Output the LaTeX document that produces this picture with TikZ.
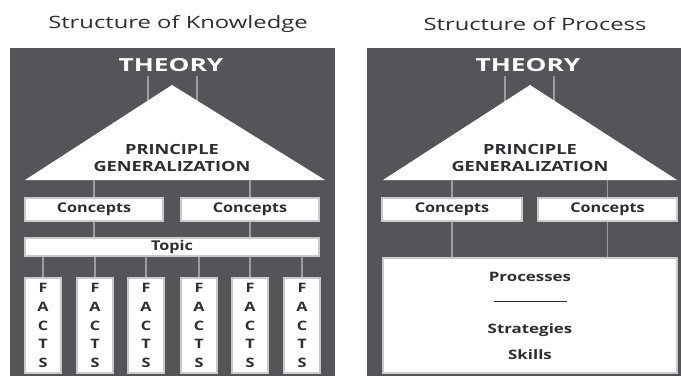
\documentclass[tikz,border=0pt]{standalone}
\usepackage{fontspec}
\setmainfont{Open Sans}
\usetikzlibrary{positioning}

\definecolor{slate}{HTML}{545558}
\definecolor{rod}{HTML}{9C9C9F}
\definecolor{rim}{HTML}{C9C9CB}
\definecolor{ink}{HTML}{2E2E30}

% wide lettering, as in the printed figure
\newcommand\wide[2][1.3]{\scalebox{#1}[1]{#2}}

\begin{document}
\begin{tikzpicture}[x=1pt,y=-1pt,
  panel/.style={fill=slate,draw=none},
  rod/.style={draw=rod,line width=1.2pt},
  card/.style={draw=rim,fill=white,line width=1.2pt,inner sep=0pt,text=ink,
    font=\bfseries\fontsize{13.5}{14}\selectfont},
  fact/.style={card,minimum width=36pt,minimum height=95pt,align=center,
    font=\bfseries\fontsize{13}{18.75}\selectfont},
  heading/.style={text=ink,font=\fontsize{17}{18}\selectfont},
  apex/.style={text=white,font=\bfseries\fontsize{18}{18}\selectfont},
  ridge/.style={text=ink,align=center,font=\bfseries\fontsize{14}{16.5}\selectfont}]
\useasboundingbox (0,0) rectangle (681,376);

% knowledge side
\node[heading] (kt) at (178,24) {\wide[1.4]{Structure of Knowledge}};
\fill[panel] (10,48) rectangle (335,376);
\node[apex] (kth) at (171,65.5) {\wide[1.46]{THEORY}};
\coordinate (kl) at (25,180);
\coordinate (kr) at (325,180);
\coordinate (ktop) at (172,85);
\draw[rod] (kth.south -| 148,0) -- (148,110);
\draw[rod] (kth.south -| 197,0) -- (197,110);
\draw[fill=white,draw=none] (kl) -- (ktop) -- (kr) -- cycle;
\node[ridge] (kpg) at (172,158) {\wide{PRINCIPLE}\\\wide{GENERALIZATION}};
\node[card,minimum width=138pt,minimum height=23pt] (kc1) at (94,209.5) {\wide[1.2]{Concepts}};
\node[card,minimum width=138pt,minimum height=23pt] (kc2) at (250,209.5) {\wide[1.2]{Concepts}};
\draw[rod] (kc1.north) -- (kc1.north |- kl);
\draw[rod] (kc2.north) -- (kc2.north |- kr);
\node[card,minimum width=294pt,minimum height=18pt] (topic) at (172,247) {\wide[1.2]{Topic}};
\draw[rod] (kc1.south) -- (kc1.south |- topic.north);
\draw[rod] (kc2.south) -- (kc2.south |- topic.north);
\foreach \x [count=\i] in {43,95,146,199,250,302} {
  \node[fact] (f\i) at (\x,325.5) {\wide[1.25]{F}\\\wide[1.25]{A}\\\wide[1.25]{C}\\\wide[1.25]{T}\\\wide[1.25]{S}};
  \draw[rod] (topic.south -| f\i) -- (f\i.north);
}

% process side
\node[heading] (pt) at (535,24) {\wide[1.4]{Structure of Process}};
\fill[panel] (367,48) rectangle (681,376);
\node[apex] (pth) at (528,65.5) {\wide[1.46]{THEORY}};
\coordinate (pl) at (383,180);
\coordinate (pr) at (677,180);
\coordinate (ptop) at (530,85);
\draw[rod] (pth.south -| 505,0) -- (505,110);
\draw[rod] (pth.south -| 554,0) -- (554,110);
\draw[fill=white,draw=none] (pl) -- (ptop) -- (pr) -- cycle;
\node[ridge] (ppg) at (530,158) {\wide{PRINCIPLE}\\\wide{GENERALIZATION}};
\node[card,minimum width=140pt,minimum height=23pt] (pc1) at (452,209.5) {\wide[1.2]{Concepts}};
\node[card,minimum width=139pt,minimum height=23pt] (pc2) at (607.5,209.5) {\wide[1.2]{Concepts}};
\draw[rod] (pc1.north) -- (pc1.north |- pl);
\draw[rod] (pc2.north) -- (pc2.north |- pr);
\node[card,minimum width=294pt,minimum height=115pt,align=center,
  font=\bfseries\fontsize{13}{26}\selectfont] (proc) at (530,315.5)
  {\wide{Processes}\\\rule[4.9pt]{73pt}{1.2pt}\\\wide{Strategies}\\\wide{Skills}};
\draw[rod] (pc1.south) -- (pc1.south |- proc.north);
\draw[rod] (pc2.south) -- (pc2.south |- proc.north);
\end{tikzpicture}
\end{document}
